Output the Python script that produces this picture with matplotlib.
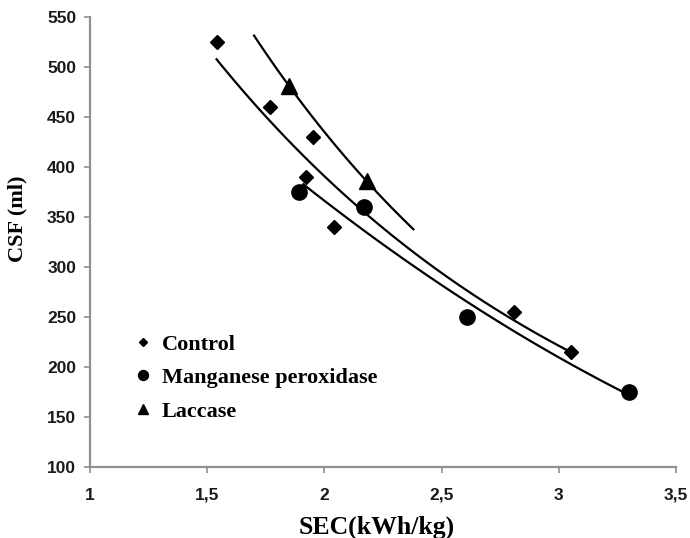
import numpy as np
import matplotlib.pyplot as plt

# Control
ctrl_sec = [1.54, 1.77, 1.95, 1.92, 2.04, 2.81, 3.05]
ctrl_csf = [525, 460, 430, 390, 340, 255, 215]
# Manganese peroxidase
mnp_sec = [1.89, 2.17, 2.61, 3.30]
mnp_csf = [375, 360, 250, 175]
# Laccase
lac_sec = [1.85, 2.18]
lac_csf = [481, 386]

serif = ["Liberation Serif", "DejaVu Serif"]
sans = ["Liberation Sans", "DejaVu Sans"]


def exp_fit(x, y, x0, x1):
    b, a = np.polyfit(x, np.log(y), 1)
    xs = np.linspace(x0, x1, 100)
    return xs, np.exp(a + b * xs)


def poly_fit(x, y, x0, x1):
    c = np.polyfit(x, y, 2)
    xs = np.linspace(x0, x1, 100)
    return xs, np.polyval(c, xs)


fig = plt.figure(figsize=(6.9, 5.38), dpi=100)
ax = fig.add_axes([0.1304, 0.132, 0.8493, 0.836])

xs, ys = exp_fit(ctrl_sec, ctrl_csf, min(ctrl_sec), max(ctrl_sec))
ax.plot(xs, ys, color="black", lw=1.6)
xs, ys = poly_fit(mnp_sec, mnp_csf, 1.91, max(mnp_sec))
ax.plot(xs, ys, color="black", lw=1.6)
xs, ys = exp_fit(lac_sec, lac_csf, 1.70, 2.38)
ax.plot(xs, ys, color="black", lw=1.6)

ax.plot(ctrl_sec, ctrl_csf, "D", color="black", ms=7, label="Control", ls="none")
ax.plot(mnp_sec, mnp_csf, "o", color="black", ms=11, label="Manganese peroxidase", ls="none")
ax.plot(lac_sec, lac_csf, "^", color="black", ms=11, label="Laccase", ls="none")

ax.set_xlim(1, 3.5)
ax.set_ylim(100, 550)
ax.set_xticks([1, 1.5, 2, 2.5, 3, 3.5])
ax.set_xticklabels(["1", "1,5", "2", "2,5", "3", "3,5"])
ax.set_yticks(range(100, 551, 50))

for s in ["top", "right"]:
    ax.spines[s].set_visible(False)
for s in ["left", "bottom"]:
    ax.spines[s].set_color("#8f8f8f")
    ax.spines[s].set_linewidth(1.6)
ax.tick_params(colors="#8f8f8f", length=4, width=1.2, labelcolor="#1a1a1a", pad=6)
for lab in ax.get_xticklabels() + ax.get_yticklabels():
    lab.set_fontfamily(sans)
    lab.set_fontweight("bold")
    lab.set_fontsize(12.5)
ax.tick_params(axis="x", pad=11)

ax.set_xlabel("SEC(kWh/kg)", fontfamily=serif, fontweight="bold", fontsize=18.5)
ax.set_ylabel("CSF (ml)", fontfamily=serif, fontweight="bold", fontsize=16)
ax.xaxis.set_label_coords(0.49, -0.109)
ax.yaxis.set_label_coords(-0.106, 0.551)

leg = ax.legend(loc="upper left", bbox_to_anchor=(0.045, 0.34), frameon=False,
                markerscale=0.65, handlelength=0.6, handletextpad=0.55, labelspacing=0.58,
                prop={"family": serif, "weight": "bold", "size": 16})

fig.savefig("out.png", dpi=100)
